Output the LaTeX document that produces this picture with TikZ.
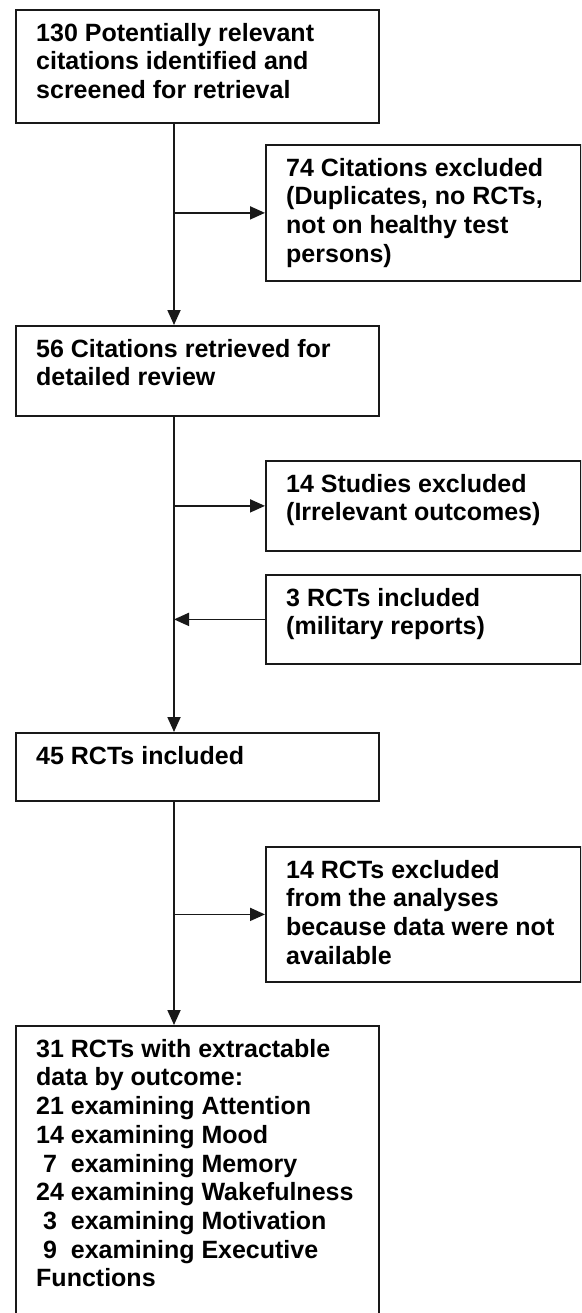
\documentclass[tikz,border=0pt]{standalone}
\usepackage{fontspec}
\setmainfont{Liberation Sans}
\usetikzlibrary{positioning,arrows.meta}

\begin{document}
\begin{tikzpicture}[x=1pt,y=-1pt,
  box/.style={draw=black!90,line width=1.8pt,anchor=north west,inner sep=0pt},
  lbox/.style={box,minimum width=363pt},
  rbox/.style={box,minimum width=315pt},
  txt/.style={inner sep=0pt,align=left,font=\bfseries\fontsize{25}{28.7}\selectfont},
  flow/.style={draw=black!90,line width=1.8pt,-{Triangle[length=15pt,width=13pt]}}]
\useasboundingbox (0,0) rectangle (581,1313);
\clip (0,0) rectangle (581,1313);
\fill[white] (0,0) rectangle (581,1313);
\coordinate (spine) at (174,0);

% left column
\node[lbox,minimum height=113pt] (b130) at (15,9) {};
\node[txt,below right=11.9pt and 21pt of b130.north west] (t130) {\strut 130 Potentially relevant\\citations identified and\\screened for retrieval};
\node[lbox,minimum height=90pt] (b56) at (15,325) {};
\node[txt,below right=11.9pt and 21pt of b56.north west] (t56) {\strut 56 Citations retrieved for\\detailed review};
\node[lbox,minimum height=68pt] (b45) at (15,732) {};
\node[txt,below right=11.9pt and 21pt of b45.north west] (t45) {\strut 45 RCTs included};
\node[lbox,minimum height=310pt] (bfin) at (15,1025) {};
\node[txt,below right=11.9pt and 21pt of bfin.north west] (tfin) {\strut 31 RCTs with extractable\\data by outcome:\\21 examining Attention\\14 examining Mood\\\ 7\ \ examining Memory\\24 examining Wakefulness\\\ 3\ \ examining Motivation\\\ 9\ \ examining Executive\\Functions};

% right column
\node[rbox,minimum height=136pt] (b74) at (265,144) {};
\node[txt,below right=11.9pt and 21pt of b74.north west] (t74) {\strut 74 Citations excluded\\(Duplicates, no RCTs,\\not on healthy test\\persons)};
\node[rbox,minimum height=90pt] (b14s) at (265,460) {};
\node[txt,below right=11.9pt and 21pt of b14s.north west] (t14s) {\strut 14 Studies excluded\\(Irrelevant outcomes)};
\node[rbox,minimum height=89pt] (b3) at (265,574) {};
\node[txt,below right=11.9pt and 21pt of b3.north west] (t3) {\strut 3 RCTs included\\(military reports)};
\node[rbox,minimum height=135pt] (b14r) at (265,846) {};
\node[txt,below right=11.9pt and 21pt of b14r.north west] (t14r) {\strut 14 RCTs excluded\\from the analyses\\because data were not\\available};

% connectors
\draw[flow] (b130.south -| spine) -- (b56.north -| spine);
\draw[flow] (b74.west -| spine) -- (b74.west);
\draw[flow] (b56.south -| spine) -- (b45.north -| spine);
\draw[flow] (b14s.west -| spine) -- (b14s.west);
\draw[flow] (b3.west) -- (b3.west -| spine);
\draw[flow] (b45.south -| spine) -- (bfin.north -| spine);
\draw[flow] (b14r.west -| spine) -- (b14r.west);
\end{tikzpicture}
\end{document}
